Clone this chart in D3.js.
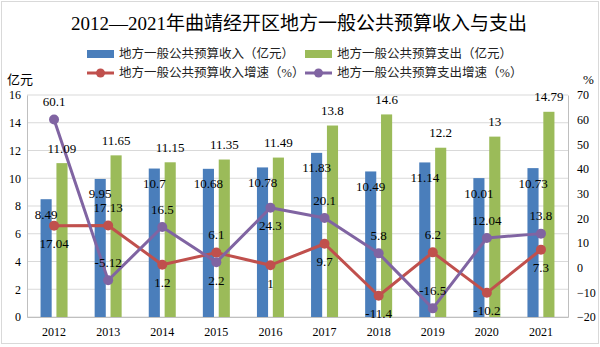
<!DOCTYPE html>
<html>
<head>
<meta charset="utf-8">
<script src="https://cdn.jsdelivr.net/npm/d3@7"></script>
<style>
  body { margin: 0; background: #fff; }
  text { font-family: "Liberation Serif", "Noto Sans CJK SC", serif; }
</style>
</head>
<body>
<div id="chart"></div>
<script>
const years = ["2012", "2013", "2014", "2015", "2016", "2017", "2018", "2019", "2020", "2021"]
const income = [8.49, 9.95, 10.7, 10.68, 10.78, 11.83, 10.49, 11.14, 10.01, 10.73]
const spend = [11.09, 11.65, 11.15, 11.35, 11.49, 13.8, 14.6, 12.2, 13, 14.79]
const incomeGrowth = [17.04, 17.13, 1.2, 6.1, 1, 9.7, -11.4, 6.2, -10.2, 7.3]
const spendGrowth = [60.1, -5.12, 16.5, 2.2, 24.3, 20.1, 5.8, -16.5, 12.04, 13.8]
const leftTicks = [0, 2, 4, 6, 8, 10, 12, 14, 16]
const rightTicks = [-20, -10, 0, 10, 20, 30, 40, 50, 60, 70]
// label above (-1) or below (+1) the point
const incomeGrowthSide = [1, -1, 1, -1, 1, 1, 1, -1, 1, 1]
const spendGrowthSide = [-1, -1, -1, 1, 1, -1, -1, -1, -1, -1]

const blue = "#4a7ebb", green = "#9bbb59", red = "#c0504d", purple = "#8064a2"
const W = 600, H = 347
const pLeft = 27, pRight = 568, pTop = 95, pBottom = 317

const svg = d3.select("#chart").append("svg")
  .attr("width", W)
  .attr("height", H)

// outer frame
svg.append("rect")
  .attr("x", 1.5).attr("y", 1.5)
  .attr("width", W - 3).attr("height", H - 5)
  .attr("fill", "none").attr("stroke", "#d9d9d9")

const x = d3.scaleBand().domain(years).range([pLeft, pRight])
const bw = x.bandwidth()
const x1 = d3.scaleBand().domain(["in", "out"])
  .range([bw / 2 - 13.5, bw / 2 + 13.5]).paddingInner(0.3)
const yL = d3.scaleLinear().domain([0, 16]).range([pBottom, pTop])
const yR = d3.scaleLinear().domain([-20, 70]).range([pBottom, pTop])

// grid
svg.append("g").selectAll("line")
  .data(leftTicks)
  .enter().append("line")
  .attr("x1", pLeft).attr("x2", pRight)
  .attr("y1", d => yL(d)).attr("y2", d => yL(d))
  .attr("stroke", "#d9d9d9").attr("stroke-width", 1.2)

// axes
svg.append("g")
  .attr("transform", "translate(" + pLeft + ",0)")
  .call(d3.axisLeft(yL).tickValues(leftTicks).tickSize(0).tickPadding(6))
  .call(g => g.select(".domain").attr("stroke", "#bfbfbf"))
  .selectAll("text").style("font-size", "12px").attr("fill", "#000")

svg.append("g")
  .attr("transform", "translate(" + pRight + ",0)")
  .call(d3.axisRight(yR).tickValues(rightTicks).tickSize(0).tickPadding(9))
  .call(g => g.select(".domain").attr("stroke", "#bfbfbf"))
  .selectAll("text").style("font-size", "12px").attr("fill", "#000")

svg.append("g")
  .attr("transform", "translate(0," + pBottom + ")")
  .call(d3.axisBottom(x).tickSize(0).tickPadding(10))
  .call(g => g.select(".domain").attr("stroke", "#bfbfbf"))
  .selectAll("text").style("font-size", "12px").attr("fill", "#000")

// bars
const bars = svg.append("g")
bars.selectAll(".inc")
  .data(income)
  .enter().append("rect")
  .attr("x", (d, i) => x(years[i]) + x1("in"))
  .attr("y", d => yL(d))
  .attr("width", x1.bandwidth())
  .attr("height", d => yL(0) - yL(d))
  .attr("fill", blue)

bars.selectAll(".out")
  .data(spend)
  .enter().append("rect")
  .attr("x", (d, i) => x(years[i]) + x1("out"))
  .attr("y", d => yL(d))
  .attr("width", x1.bandwidth())
  .attr("height", d => yL(0) - yL(d))
  .attr("fill", green)

// lines
function drawLine(vals, color) {
  const line = d3.line()
    .x((d, i) => x(years[i]) + bw / 2)
    .y(d => yR(d))
  svg.append("path")
    .datum(vals)
    .attr("d", line)
    .attr("fill", "none")
    .attr("stroke", color)
    .attr("stroke-width", 3)
    .attr("stroke-linejoin", "round")
  svg.append("g").selectAll("circle")
    .data(vals)
    .enter().append("circle")
    .attr("cx", (d, i) => x(years[i]) + bw / 2)
    .attr("cy", d => yR(d))
    .attr("r", 5)
    .attr("fill", color)
}
drawLine(incomeGrowth, red)
drawLine(spendGrowth, purple)

// data labels
const labels = svg.append("g").style("font-size", "13px").attr("text-anchor", "middle")
labels.selectAll(".li")
  .data(income).enter().append("text")
  .attr("x", (d, i) => x(years[i]) + x1("in") + x1.bandwidth() / 2)
  .attr("y", d => yL(d) + 15)
  .attr("dy", "0.35em")
  .text(d => d)
labels.selectAll(".lo")
  .data(spend).enter().append("text")
  .attr("x", (d, i) => x(years[i]) + x1("out") + x1.bandwidth() / 2)
  .attr("y", d => yL(d) - 15)
  .attr("dy", "0.35em")
  .text(d => d)
labels.selectAll(".lig")
  .data(incomeGrowth).enter().append("text")
  .attr("x", (d, i) => x(years[i]) + bw / 2)
  .attr("y", (d, i) => yR(d) + incomeGrowthSide[i] * 18)
  .attr("dy", "0.35em")
  .text(d => d)
labels.selectAll(".log")
  .data(spendGrowth).enter().append("text")
  .attr("x", (d, i) => x(years[i]) + bw / 2)
  .attr("y", (d, i) => yR(d) + spendGrowthSide[i] * 18)
  .attr("dy", "0.35em")
  .text(d => d)

// title
svg.append("text")
  .attr("x", 299)
  .attr("y", 23)
  .attr("dy", "0.35em")
  .attr("text-anchor", "middle")
  .style("font-size", "19px")
  .text("2012—2021年曲靖经开区地方一般公共预算收入与支出")

// unit labels
svg.append("text").attr("x", 7).attr("y", 79).attr("dy", "0.35em")
  .style("font-size", "13px").text("亿元")
svg.append("text").attr("x", 583).attr("y", 79).attr("dy", "0.35em")
  .style("font-size", "13px").text("%")

// legend
const legendItems = [
  { name: "地方一般公共预算收入（亿元）", color: blue, type: "bar", x: 87, y: 54 },
  { name: "地方一般公共预算支出（亿元）", color: green, type: "bar", x: 305, y: 54 },
  { name: "地方一般公共预算收入增速（%）", color: red, type: "line", x: 87, y: 73 },
  { name: "地方一般公共预算支出增速（%）", color: purple, type: "line", x: 305, y: 73 }
]
const lg = svg.append("g").selectAll("g")
  .data(legendItems).enter().append("g")
  .attr("transform", d => "translate(" + d.x + "," + d.y + ")")
lg.filter(d => d.type === "bar").append("rect")
  .attr("x", 0).attr("y", -4).attr("width", 27).attr("height", 8)
  .attr("fill", d => d.color)
lg.filter(d => d.type === "line").append("line")
  .attr("x1", 0).attr("x2", 27)
  .attr("stroke", d => d.color).attr("stroke-width", 3)
lg.filter(d => d.type === "line").append("circle")
  .attr("cx", 13.5).attr("r", 4.5)
  .attr("fill", d => d.color)
lg.append("text")
  .attr("x", 32).attr("dy", "0.35em")
  .style("font-size", "12.5px").attr("fill", "#222")
  .text(d => d.name)
</script>
</body>
</html>
